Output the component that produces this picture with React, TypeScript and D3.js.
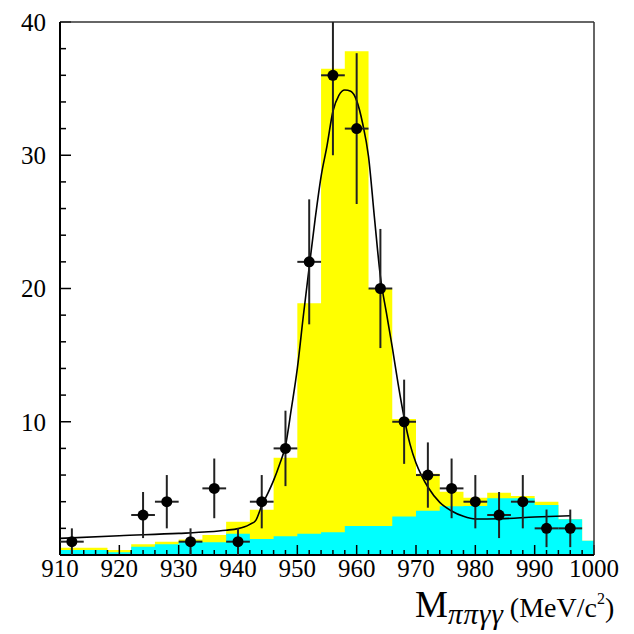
import React from "react";
import * as d3 from "d3";

// ---- Data ----
const binEdges = [910, 914, 918, 922, 926, 930, 934, 938, 942, 946, 950, 954, 958, 962, 966, 970, 974, 978, 982, 986, 990, 994, 998, 1000];
const totalMC = [0.55, 0.55, 0.38, 0.8, 1.0, 1.17, 1.5, 2.5, 3.4, 7.3, 18.9, 36.5, 37.8, 20.0, 10.2, 6.1, 4.75, 4.3, 4.67, 4.42, 4.0, 2.68, 1.07];
const bgMC = [0.375, 0.375, 0.2, 0.62, 0.8, 1.0, 0.95, 1.6, 1.2, 1.4, 1.6, 1.7, 2.17, 2.17, 2.88, 3.33, 3.65, 3.67, 4.25, 4.25, 3.75, 2.68, 1.07];

const dataMass = [912, 924, 928, 932, 936, 940, 944, 948, 952, 956, 960, 964, 968, 972, 976, 980, 984, 988, 992, 996];
const dataCounts = [1, 3, 4, 1, 5, 1, 4, 8, 22, 36, 32, 20, 10, 6, 5, 4, 3, 4, 2, 2];
const dataErrors = [1, 1.73, 2, 1, 2.24, 1, 2, 2.83, 4.69, 6, 5.66, 4.47, 3.16, 2.45, 2.24, 2, 1.73, 2, 1.41, 1.41];
const binHalfWidth = 2;

const fitMass = [910, 920, 930, 935, 938, 940, 941, 942, 943, 944, 945, 946, 947, 948, 949, 950, 951, 952, 953, 954, 955, 956, 957, 958, 959, 960, 961, 962, 963, 964, 965, 966, 967, 968, 969, 970, 971, 972, 974, 976, 978, 980, 984, 990, 996];
const fitValues = [1.25, 1.45, 1.62, 1.74, 1.86, 1.98, 2.1, 2.3, 2.6, 3.7, 4.6, 5.6, 6.8, 8.2, 11.0, 14.0, 17.9, 21.6, 25.2, 28.4, 30.7, 33.3, 34.5, 34.9, 34.8, 34.1, 32.4, 29.9, 25.3, 20.9, 18.2, 15.6, 12.8, 10.3, 8.3, 6.9, 5.9, 5.1, 3.95, 3.3, 2.9, 2.7, 2.72, 2.85, 2.95];

const xMajorTicks = [910, 920, 930, 940, 950, 960, 970, 980, 990, 1000];
const yMajorTicks = [10, 20, 30, 40];

// ---- Layout ----
const W = 634, H = 634;
const L = 60, R = 594, T = 22, B = 555;
const FONT = "Liberation Serif, DejaVu Serif, serif";

export default function App() {
  const x = d3.scaleLinear().domain([910, 1000]).range([L, R]);
  const y = d3.scaleLinear().domain([0, 40]).range([B, T]);

  const stepArea = (vals: number[]) => {
    const pts = binEdges.map((e, i) => ({ e, v: vals[Math.min(i, vals.length - 1)] }));
    return d3.area<{ e: number; v: number }>()
      .x((d) => x(d.e))
      .y0(y(0))
      .y1((d) => y(d.v))
      .curve(d3.curveStepAfter)(pts) as string;
  };

  const fitLine = d3.line<number>()
    .x((_, i) => x(fitMass[i]))
    .y((d) => y(d))
    .curve(d3.curveMonotoneX)(fitValues) as string;

  const xMinor = d3.range(910, 1001, 2);
  const yMinor = d3.range(0, 41, 2);
  const txt = { fontFamily: FONT } as React.CSSProperties;

  return (
    <svg width={W} height={H} style={{ position: "absolute", left: 0, top: 0, background: "#fff" }}>
      <defs>
        <clipPath id="plotclip">
          <rect x={L} y={T} width={R - L} height={B - T} />
        </clipPath>
      </defs>
      <rect x={0} y={0} width={W} height={H} fill="#fff" />
      <g clipPath="url(#plotclip)">
        <path d={stepArea(totalMC)} fill="#ffff00" />
        <path d={stepArea(bgMC)} fill="#00ffff" />
      </g>

      {/* ticks */}
      {xMinor.map((t) => {
        const major = t % 10 === 0;
        return <line key={"xt" + t} x1={x(t)} x2={x(t)} y1={B} y2={B - (major ? 10 : 5)} stroke="#000" strokeWidth={1.5} />;
      })}
      {yMinor.map((t) => {
        const major = t % 10 === 0;
        return <line key={"yt" + t} x1={L} x2={L + (major ? 11 : 6)} y1={y(t)} y2={y(t)} stroke="#000" strokeWidth={1.5} />;
      })}

      {/* frame */}
      <line x1={L} x2={R} y1={T} y2={T} stroke="#333" strokeWidth={1.5} />
      <line x1={R} x2={R} y1={T} y2={B} stroke="#333" strokeWidth={1.5} />
      <line x1={L} x2={L} y1={T} y2={B} stroke="#000" strokeWidth={2} />
      <line x1={L} x2={R} y1={B} y2={B} stroke="#000" strokeWidth={2} />

      <g clipPath="url(#plotclip)">
        <path d={fitLine} fill="none" stroke="#000" strokeWidth={1.6} />
        {dataMass.map((m, i) => (
          <g key={"p" + m}>
            <line x1={x(m)} x2={x(m)} y1={y(dataCounts[i] - dataErrors[i])} y2={y(dataCounts[i] + dataErrors[i])} stroke="#222" strokeWidth={2} />
            <line x1={x(m - binHalfWidth)} x2={x(m + binHalfWidth)} y1={y(dataCounts[i])} y2={y(dataCounts[i])} stroke="#222" strokeWidth={2} />
            <circle cx={x(m)} cy={y(dataCounts[i])} r={5.5} fill="#000" />
          </g>
        ))}
      </g>

      {/* tick labels */}
      {xMajorTicks.map((t) => (
        <text key={"xl" + t} x={x(t)} y={577} textAnchor="middle" fontSize={25} fill="#000" style={txt}>{t}</text>
      ))}
      {yMajorTicks.map((t) => (
        <text key={"yl" + t} x={46} y={y(t)} dy="0.35em" textAnchor="end" fontSize={25} fill="#000" style={txt}>{t}</text>
      ))}

      {/* axis title */}
      <text x={415} y={617} fontSize={37} fill="#000" style={txt}>
        M
        <tspan fontSize={29} fontStyle="italic" dy={7} letterSpacing={1}>ππγγ</tspan>
        <tspan fontSize={28} dy={-7} dx={6}>(MeV/c</tspan>
        <tspan fontSize={16} dy={-13}>2</tspan>
        <tspan fontSize={28} dy={13}>)</tspan>
      </text>
    </svg>
  );
}
